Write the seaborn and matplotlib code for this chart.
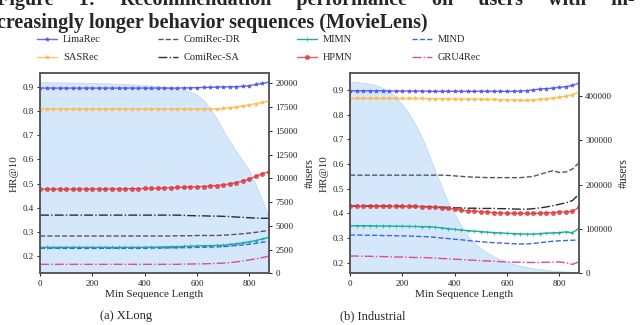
import numpy as np
import matplotlib
matplotlib.use("Agg")
import matplotlib.pyplot as plt
import seaborn as sns
import pandas as pd
from matplotlib.patches import Rectangle

# x positions (min sequence length)
min_len = list(range(0, 876, 25))

# ---- (a) XLong ----
xl_users = [20100, 20100, 20100, 20090, 20080, 20070, 20060, 20050, 20030, 20010,
            19990, 19970, 19940, 19910, 19880, 19840, 19800, 19750, 19690, 19620,
            19520, 19400, 19250, 19080, 18800, 18200, 17300, 16300, 15000, 13900,
            12800, 11800, 10800, 9300, 7600, 5800]
xl_lima = [0.894] * 10 + [0.894] * 10 + \
          [0.894, 0.894, 0.895, 0.895, 0.896, 0.897, 0.897, 0.898, 0.899, 0.899,
           0.900, 0.901, 0.904, 0.909, 0.913, 0.918]
xl_sas = [0.808] * 20 + \
         [0.808, 0.808, 0.808, 0.808, 0.808, 0.808, 0.808, 0.808, 0.810, 0.813,
          0.816, 0.820, 0.825, 0.830, 0.835, 0.840]
xl_hpmn = [0.477, 0.477, 0.477, 0.477, 0.477, 0.477, 0.477, 0.478, 0.478, 0.478,
           0.478, 0.478, 0.478, 0.479, 0.479, 0.479, 0.480, 0.480, 0.481, 0.482,
           0.483, 0.484, 0.485, 0.486, 0.487, 0.488, 0.490, 0.492, 0.495, 0.499,
           0.504, 0.511, 0.519, 0.530, 0.541, 0.549]
xl_sa = [0.370] * 20 + \
        [0.370, 0.370, 0.369, 0.368, 0.367, 0.367, 0.366, 0.366, 0.365, 0.364,
         0.362, 0.361, 0.359, 0.358, 0.357, 0.357]
xl_dr = [0.284] * 20 + \
        [0.284, 0.285, 0.285, 0.285, 0.286, 0.286, 0.286, 0.286, 0.287, 0.289,
         0.291, 0.293, 0.296, 0.299, 0.303, 0.307]
xl_mimn = [0.237] * 10 + \
          [0.237, 0.237, 0.237, 0.237, 0.237, 0.237, 0.237, 0.238, 0.238, 0.239,
           0.240, 0.240, 0.241, 0.242, 0.243, 0.244, 0.244, 0.245, 0.246, 0.249,
           0.252, 0.256, 0.260, 0.265, 0.272, 0.278]
xl_mind = [0.233] * 10 + \
          [0.233, 0.233, 0.233, 0.233, 0.233, 0.233, 0.233, 0.234, 0.234, 0.234,
           0.235, 0.235, 0.236, 0.236, 0.237, 0.238, 0.238, 0.239, 0.240, 0.242,
           0.245, 0.247, 0.250, 0.254, 0.258, 0.262]
xl_gru = [0.167] * 20 + \
         [0.167, 0.167, 0.168, 0.168, 0.169, 0.169, 0.170, 0.171, 0.172, 0.174,
          0.177, 0.181, 0.185, 0.190, 0.195, 0.201]

# ---- (b) Industrial ----
in_users = [432000, 431000, 429000, 427000, 424000, 418000, 410000, 398000, 380000, 360000,
            335000, 306000, 270000, 232000, 195000, 160000, 133000, 107000, 84000, 68000,
            56000, 46000, 38000, 31000, 26000, 21000, 17000, 14000, 11500, 9500,
            7500, 6000, 4800, 3800, 3000, 2400]
in_lima = [0.897, 0.897, 0.897, 0.897, 0.897, 0.897, 0.896, 0.896, 0.896, 0.896,
           0.896, 0.896, 0.895, 0.895, 0.895, 0.895, 0.895, 0.895, 0.895, 0.895,
           0.895, 0.895, 0.895, 0.895, 0.895, 0.895, 0.896, 0.898, 0.901, 0.904,
           0.906, 0.908, 0.911, 0.914, 0.919, 0.928]
in_sas = [0.866] * 10 + \
         [0.866, 0.866, 0.865, 0.865, 0.865, 0.865, 0.864, 0.864, 0.864, 0.863,
          0.863, 0.862, 0.862, 0.861, 0.861, 0.860, 0.859, 0.858, 0.860, 0.863,
          0.865, 0.868, 0.871, 0.875, 0.882, 0.891]
in_dr = [0.555] * 10 + \
        [0.555, 0.555, 0.555, 0.555, 0.555, 0.554, 0.552, 0.550, 0.548, 0.547,
         0.546, 0.545, 0.545, 0.545, 0.545, 0.545, 0.545, 0.547, 0.550, 0.558,
         0.566, 0.573, 0.566, 0.568, 0.580, 0.605]
in_sa = [0.430, 0.430, 0.430, 0.430, 0.430, 0.430, 0.429, 0.429, 0.429, 0.428,
         0.428, 0.428, 0.427, 0.426, 0.425, 0.424, 0.423, 0.422, 0.421, 0.421,
         0.420, 0.420, 0.420, 0.419, 0.419, 0.418, 0.417, 0.417, 0.419, 0.422,
         0.426, 0.431, 0.437, 0.443, 0.452, 0.478]
in_hpmn = [0.429, 0.429, 0.429, 0.429, 0.429, 0.429, 0.429, 0.428, 0.428, 0.428,
           0.428, 0.427, 0.427, 0.425, 0.422, 0.420, 0.417, 0.413, 0.410, 0.408,
           0.407, 0.405, 0.403, 0.402, 0.401, 0.400, 0.400, 0.400, 0.400, 0.401,
           0.402, 0.403, 0.405, 0.406, 0.408, 0.425]
in_mimn = [0.350, 0.350, 0.350, 0.350, 0.349, 0.349, 0.349, 0.348, 0.348, 0.347,
           0.347, 0.346, 0.346, 0.344, 0.341, 0.338, 0.335, 0.333, 0.330, 0.328,
           0.326, 0.324, 0.322, 0.321, 0.319, 0.318, 0.317, 0.316, 0.316, 0.318,
           0.320, 0.321, 0.322, 0.325, 0.322, 0.339]
in_mind = [0.312, 0.312, 0.312, 0.311, 0.311, 0.310, 0.310, 0.309, 0.309, 0.308,
           0.307, 0.306, 0.305, 0.303, 0.300, 0.298, 0.295, 0.293, 0.290, 0.287,
           0.285, 0.283, 0.281, 0.280, 0.278, 0.277, 0.276, 0.276, 0.278, 0.281,
           0.284, 0.287, 0.289, 0.290, 0.291, 0.292]
in_gru = [0.227, 0.227, 0.226, 0.226, 0.225, 0.225, 0.224, 0.223, 0.223, 0.222,
          0.221, 0.221, 0.220, 0.219, 0.217, 0.216, 0.214, 0.213, 0.211, 0.210,
          0.208, 0.207, 0.206, 0.204, 0.203, 0.202, 0.202, 0.201, 0.201, 0.201,
          0.202, 0.202, 0.203, 0.200, 0.193, 0.204]

models = ["LimaRec", "SASRec", "ComiRec-DR", "ComiRec-SA", "MIMN", "HPMN", "MIND", "GRU4Rec"]

xlong = pd.DataFrame({"len": min_len, "users": xl_users,
                      "LimaRec": xl_lima, "SASRec": xl_sas, "ComiRec-DR": xl_dr,
                      "ComiRec-SA": xl_sa, "MIMN": xl_mimn, "HPMN": xl_hpmn,
                      "MIND": xl_mind, "GRU4Rec": xl_gru})
indus = pd.DataFrame({"len": min_len, "users": in_users,
                      "LimaRec": in_lima, "SASRec": in_sas, "ComiRec-DR": in_dr,
                      "ComiRec-SA": in_sa, "MIMN": in_mimn, "HPMN": in_hpmn,
                      "MIND": in_mind, "GRU4Rec": in_gru})

# color, linestyle, marker, markersize, alpha
style = {
    "LimaRec":    ("#4f4ff2", "-",  "*", 3.0, 0.85),
    "SASRec":     ("#ffb84a", "-",  "*", 3.0, 0.85),
    "ComiRec-DR": ("#555555", "--", "",  0,   1.0),
    "ComiRec-SA": ("#2b2b3a", "-.", "",  0,   1.0),
    "MIMN":       ("#16b09a", "-",  "+", 2.5, 1.0),
    "HPMN":       ("#e03535", "-",  "o", 3.0, 0.8),
    "MIND":       ("#3a66e0", "--", "",  0,   1.0),
    "GRU4Rec":    ("#e0489a", "-.", "",  0,   1.0),
}

sns.set_theme(style="ticks")
plt.rcParams["font.family"] = ["Liberation Serif", "DejaVu Serif"]

fig = plt.figure(figsize=(6.4, 3.25), dpi=100)

panels = [
    (xlong, [40 / 640, 51.7 / 325, 229 / 640, 200 / 325], (0.13, 0.955), (0, 21050),
     [0, 2500, 5000, 7500, 10000, 12500, 15000, 17500, 20000], "(a) XLong", 126 / 640),
    (indus, [350 / 640, 51.7 / 325, 229 / 640, 200 / 325], (0.157, 0.968), (0, 451000),
     [0, 100000, 200000, 300000, 400000], "(b) Industrial", 373 / 640),
]

for df, pos, hr_lim, u_lim, u_ticks, cap, cap_x in panels:
    ax = fig.add_axes(pos)
    ax2 = ax.twinx()
    ax2.fill_between(df["len"], df["users"], 0, color="#d5e8fb", edgecolor="#b9d9f8",
                     linewidth=0.6)
    ax2.set_ylim(*u_lim)
    ax2.set_yticks(u_ticks)
    ax2.set_ylabel("#users", fontsize=8.5, labelpad=4)
    ax.set_zorder(ax2.get_zorder() + 1)
    ax.patch.set_visible(False)

    for m in models:
        c, ls, mk, ms, a = style[m]
        kw = dict(marker=mk, markersize=ms, markeredgecolor=c, markeredgewidth=0.5) if mk else {}
        sns.lineplot(data=df, x="len", y=m, ax=ax, color=c, linestyle=ls, linewidth=1.0,
                     alpha=a, label=m, legend=False, **kw)
    if ax.get_legend() is not None:
        ax.get_legend().remove()

    ax.set_xlim(0, 875)
    ax.set_ylim(*hr_lim)
    ax.set_xticks([0, 200, 400, 600, 800])
    ax.set_yticks([0.2, 0.3, 0.4, 0.5, 0.6, 0.7, 0.8, 0.9])
    ax.set_xlabel("Min Sequence Length", fontsize=8, labelpad=2)
    ax.set_ylabel("HR@10", fontsize=8, labelpad=3)
    for a_ in (ax, ax2):
        a_.tick_params(labelsize=6.5, length=2.5, width=0.7, pad=2, colors="#222222")
        for sp in a_.spines.values():
            sp.set_color("#555555")
            sp.set_linewidth(1.1)
    fig.text(cap_x, 9 / 325, cap, ha="center", va="center", fontsize=9)

handles, labels = fig.axes[0].get_legend_handles_labels()
hmap = dict(zip(labels, handles))
groups = [(["LimaRec", "SASRec"], 37), (["ComiRec-DR", "ComiRec-SA"], 158),
          (["MIMN", "HPMN"], 297), (["MIND", "GRU4Rec"], 412)]
for names, px in groups:
    fig.legend([hmap[n] for n in names], names, loc="upper left",
               bbox_to_anchor=(px / 640, 1 - 35 / 325), frameon=False, fontsize=7.5,
               borderpad=0, borderaxespad=0, handlelength=1.9, handletextpad=0.6,
               labelspacing=0.85)

# caption lines cut off at the top of the crop (first line is justified)
line1 = "     ".join(["Figure", "1:", "Recommendation", "performance", "on", "users",
                      "with", "in-"])
fig.text(-3 / 640, 1 - 5 / 325, line1,
         ha="left", va="baseline", fontsize=14.5, fontweight="bold")
fig.text(-3 / 640, 1 - 28 / 325, "creasingly longer behavior sequences (MovieLens)",
         ha="left", va="baseline", fontsize=14.5, fontweight="bold")
fig.patches.append(Rectangle((0, 1 - 38 / 325), 1, 8.5 / 325, transform=fig.transFigure,
                             facecolor="white", edgecolor="none", zorder=3))

fig.savefig("out.png", dpi=100)
